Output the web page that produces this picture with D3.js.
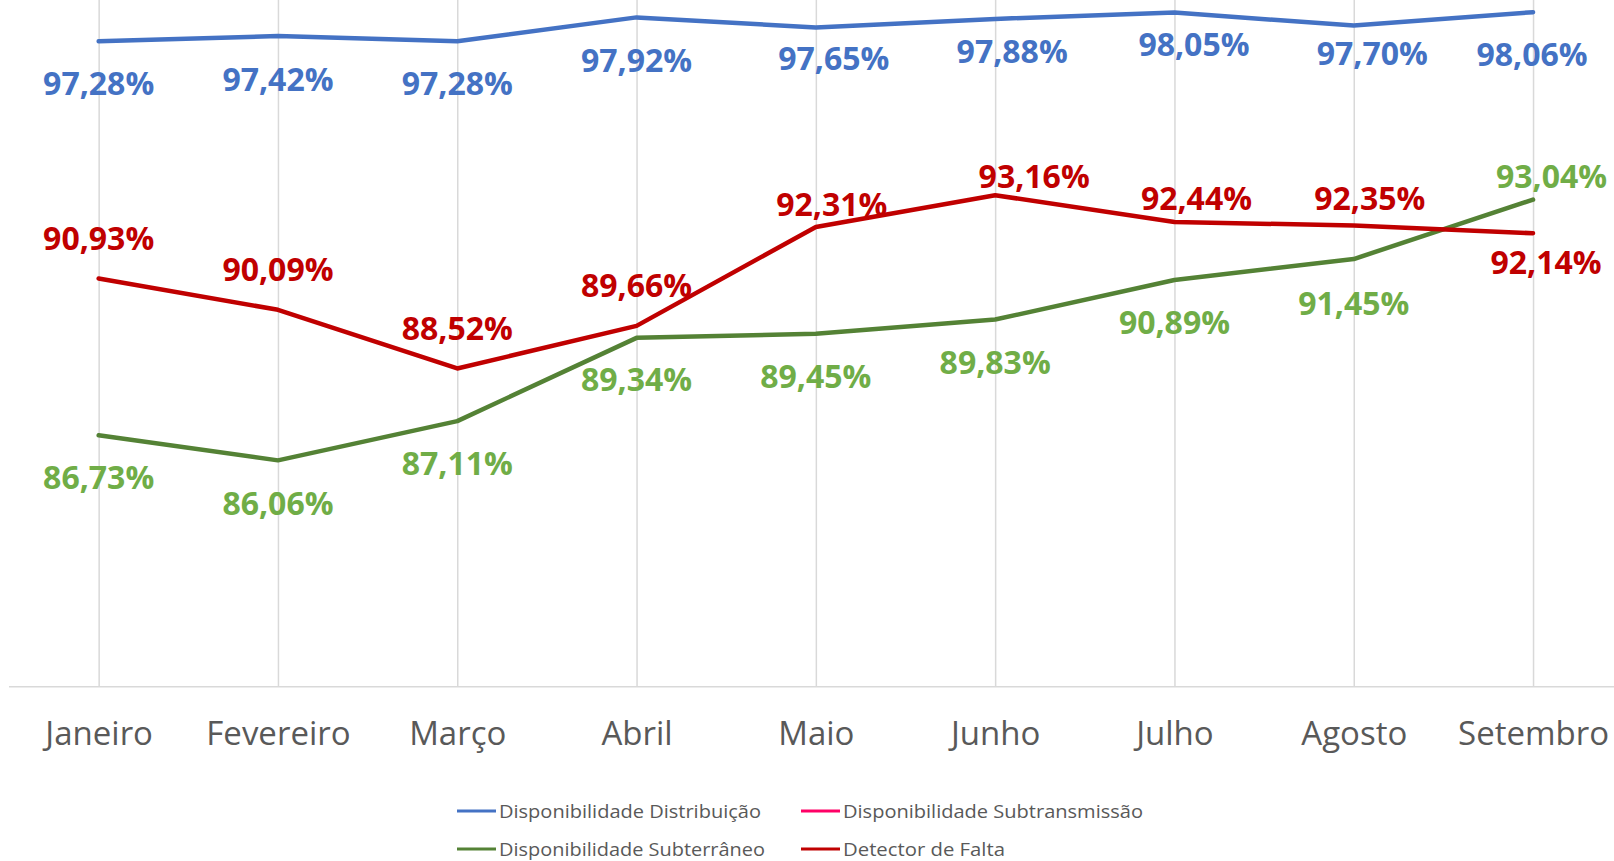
<!DOCTYPE html>
<html>
<head>
<meta charset="utf-8">
<script src="https://cdn.jsdelivr.net/npm/d3@7"></script>
<style>
  html, body { margin: 0; padding: 0; background: #fff; }
  svg { display: block; }
</style>
</head>
<body>
<div id="chart"></div>
<script>
// dados (jan-set)
const meses = ["Janeiro", "Fevereiro", "Março", "Abril", "Maio", "Junho", "Julho", "Agosto", "Setembro"];
const distribuicao = [97.28, 97.42, 97.28, 97.92, 97.65, 97.88, 98.05, 97.70, 98.06];
const subtransmissao = []; // sem valores no período
const subterraneo = [86.73, 86.06, 87.11, 89.34, 89.45, 89.83, 90.89, 91.45, 93.04];
const detectorFalta = [90.93, 90.09, 88.52, 89.66, 92.31, 93.16, 92.44, 92.35, 92.14];

// deslocamento dos rótulos em relação ao ponto (px)
const labelDx = {
  dist: [0, 0, 0, 0, 18, 17, 19.5, 18.5, -1],
  subt: [0, 0, 0, 0, 0, 0, 0, 0, 18.5],
  falta: [0, 0, 0, 0, 16, 39, 22, 16, 13]
};
const labelDy = {
  dist: [42.5, 43, 42.5, 43, 31, 33, 32, 27.7, 42.7],
  subt: [42.6, 43.3, 42, 42, 43, 43, 43, 44, -23],
  falta: [-40, -40, -40, -40, -22, -18.5, -24, -27, 29.5]
};

const width = 1614, height = 861;
const plotLeft = 9, plotRight = 9 + 9 * 179.3;
const baseY = 686.7, pxPerUnit = 37.35;

const series = [
  { key: "dist", name: "Disponibilidade Distribuição", values: distribuicao, color: "#4472C4", labelColor: "#4472C4" },
  { key: "trans", name: "Disponibilidade Subtransmissão", values: subtransmissao, color: "#FF0066", labelColor: "#FF0066" },
  { key: "subt", name: "Disponibilidade Subterrâneo", values: subterraneo, color: "#548235", labelColor: "#70AD47" },
  { key: "falta", name: "Detector de Falta", values: detectorFalta, color: "#C00000", labelColor: "#C00000" }
];

const svg = d3.select("#chart")
  .append("svg")
  .attr("width", width)
  .attr("height", height);

svg.append("rect").attr("width", width).attr("height", height).attr("fill", "#fff");

const x = d3.scalePoint().domain(meses).range([plotLeft, plotRight]).padding(0.5);
const y = d3.scaleLinear().domain([80, 100]).range([baseY, baseY - 20 * pxPerUnit]);

// grade vertical
const grid = svg.append("g")
  .attr("transform", "translate(0," + baseY + ")")
  .call(d3.axisBottom(x).tickSize(-(baseY - y(100))).tickFormat(""));
grid.select(".domain").remove();
grid.selectAll("line").attr("stroke", "#D9D9D9").attr("stroke-width", 1.5);

// linha do eixo
svg.append("line")
  .attr("x1", plotLeft).attr("x2", width)
  .attr("y1", baseY).attr("y2", baseY)
  .attr("stroke", "#D9D9D9").attr("stroke-width", 1.5);

// rótulos do eixo x
const xAxis = svg.append("g")
  .attr("transform", "translate(0," + baseY + ")")
  .call(d3.axisBottom(x).tickSize(0).tickPadding(35));
xAxis.select(".domain").remove();
xAxis.selectAll("text")
  .attr("fill", "#595959")
  .style("font-family", "'Open Sans', sans-serif")
  .style("font-size", "33px");

const line = d3.line()
  .defined((d) => d != null)
  .x((d, i) => x(meses[i]))
  .y((d) => y(d));

const lines = svg.append("g");
series.forEach((s) => {
  if (!s.values.length) return;
  lines.append("path")
    .datum(s.values)
    .attr("fill", "none")
    .attr("stroke", s.color)
    .attr("stroke-width", 4.5)
    .attr("stroke-linejoin", "round")
    .attr("stroke-linecap", "round")
    .attr("d", line);
});

const ptBR = d3.formatLocale({ decimal: ",", thousands: ".", grouping: [3], currency: ["R$", ""] });
const fmt = (v) => ptBR.format(".2f")(v) + "%";

const labels = svg.append("g")
  .style("font-family", "'Open Sans', sans-serif")
  .style("font-weight", "bold")
  .style("font-size", "32px")
  .attr("text-anchor", "middle");

series.forEach((s) => {
  if (!s.values.length) return;
  labels.selectAll(null)
    .data(s.values)
    .enter()
    .append("text")
    .attr("x", (d, i) => x(meses[i]) + labelDx[s.key][i])
    .attr("y", (d, i) => y(d) + labelDy[s.key][i] + 11.5)
    .attr("fill", s.labelColor)
    .text((d) => fmt(d));
});

// legenda
const legendPos = [
  { x: 457, y: 811, w: 262 },
  { x: 801, y: 811, w: 300 },
  { x: 457, y: 849, w: 266 },
  { x: 801, y: 849, w: 162 }
];
const legend = svg.append("g");
series.forEach((s, i) => {
  const p = legendPos[i];
  const g = legend.append("g").attr("transform", "translate(" + p.x + "," + p.y + ")");
  g.append("line")
    .attr("x1", 0).attr("x2", 39)
    .attr("stroke", s.color).attr("stroke-width", 3);
  g.append("text")
    .attr("x", 42)
    .attr("y", 6.5)
    .attr("fill", "#595959")
    .attr("textLength", p.w)
    .attr("lengthAdjust", "spacingAndGlyphs")
    .style("font-family", "'Open Sans', sans-serif")
    .style("font-size", "19px")
    .text(s.name);
});
</script>
</body>
</html>
